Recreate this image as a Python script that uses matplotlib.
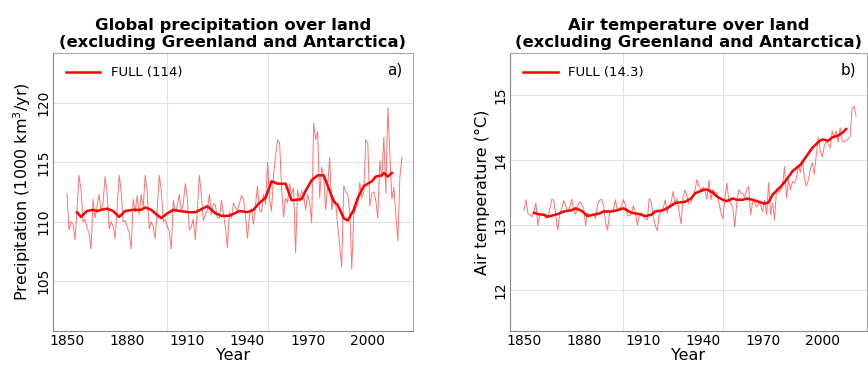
import matplotlib
matplotlib.use('Agg')
from matplotlib import pyplot as plt

# annual values 1850-2017, 11-yr running mean read separately
years = list(range(1850, 2018))

precip = [
    112.4, 109.3, 110.0, 109.8, 108.5, 111.0, 113.9, 112.7, 110.0, 110.2,
    109.5, 109.0, 107.7, 111.9, 110.3, 111.3, 112.3, 110.9, 111.6, 113.8,
    112.5, 109.4, 110.0, 109.6, 108.6, 111.1, 113.9, 112.6, 110.0, 110.1,
    109.6, 109.1, 107.7, 111.9, 110.8, 112.2, 110.6, 112.3, 111.2, 113.9,
    112.6, 109.4, 110.0, 109.6, 108.6, 111.1, 113.9, 112.7, 110.0, 110.2,
    109.6, 109.2, 107.7, 111.8, 110.8, 111.3, 112.3, 110.9, 111.5, 113.2,
    112.0, 109.3, 109.6, 110.2, 108.5, 111.0, 113.9, 112.3, 110.1, 110.6,
    111.0, 112.3, 110.6, 111.5, 111.4, 110.3, 110.3, 111.8, 110.7, 109.5,
    107.8, 110.8, 110.3, 111.6, 111.2, 110.9, 111.5, 112.2, 111.9, 110.5,
    108.6, 110.5, 111.1, 109.8, 111.4, 113.0, 111.0, 110.8, 112.3, 111.5,
    115.0, 112.0, 110.9, 113.9, 115.5, 116.9, 116.7, 112.9, 110.4, 112.0,
    111.6, 113.2, 112.3, 112.8, 107.4, 112.7, 111.7, 112.6, 112.3, 111.0,
    112.3, 111.6, 109.9, 118.3, 116.9, 117.6, 112.0, 114.6, 113.8, 111.0,
    113.0, 115.4, 111.0, 112.0, 111.6, 109.7, 108.0, 106.2, 113.0, 112.5,
    112.3, 110.9, 106.0, 110.6, 111.2, 111.4, 113.3, 112.0, 112.5, 116.9,
    116.6, 111.3, 112.4, 112.5, 111.8, 110.3, 115.1, 113.7, 117.1, 112.4,
    119.6, 115.7, 111.9, 112.9, 110.5, 108.4, 113.7, 115.4,
]

precip_sm_years = [1855, 1857, 1860, 1863, 1865, 1867, 1870, 1873, 1876, 1879,
                   1883, 1887, 1889, 1892, 1894, 1897, 1900, 1903, 1906, 1911,
                   1914, 1920, 1924, 1927, 1931, 1936, 1940, 1943, 1946, 1949,
                   1952, 1955, 1959, 1962, 1967, 1969, 1972, 1975, 1978, 1981,
                   1983, 1985, 1988, 1990, 1993, 1995, 1998, 2002, 2004, 2007,
                   2008, 2010, 2012]
precip_sm = [110.8, 110.4, 110.9, 111.0, 110.9, 111.0, 111.1, 110.9, 110.4, 110.9,
             111.0, 111.0, 111.2, 111.0, 110.7, 110.3, 110.7, 111.0, 110.9, 110.8,
             110.8, 111.3, 110.7, 110.5, 110.5, 110.9, 110.8, 111.0, 111.6, 112.0,
             113.4, 113.2, 113.2, 111.8, 111.9, 112.6, 113.5, 113.9, 113.9, 112.6,
             111.7, 111.4, 110.3, 110.1, 111.0, 112.0, 113.0, 113.4, 113.8, 113.9,
             114.1, 113.8, 114.1]

temp = [
    13.23, 13.39, 13.18, 13.16, 13.13, 13.20, 13.34, 13.00, 13.18, 13.14,
    13.17, 13.10, 13.13, 13.25, 13.40, 13.38, 13.15, 12.92, 13.18, 13.26,
    13.38, 13.30, 13.21, 13.28, 13.40, 13.24, 13.17, 13.28, 13.36, 13.32,
    13.26, 13.00, 13.19, 13.15, 13.16, 13.17, 13.10, 13.31, 13.38, 13.40,
    13.31, 13.05, 12.92, 13.18, 13.23, 13.24, 13.39, 13.21, 13.26, 13.30,
    13.39, 13.31, 13.15, 13.14, 13.18, 13.30, 13.20, 13.00, 13.16, 13.19,
    13.14, 13.10, 13.08, 13.41, 13.36, 13.13, 13.00, 12.91, 13.15, 13.22,
    13.26, 13.39, 13.18, 13.30, 13.35, 13.52, 13.31, 13.41, 13.20, 13.02,
    13.44, 13.54, 13.44, 13.33, 13.36, 13.44, 13.54, 13.70, 13.60, 13.54,
    13.59, 13.52, 13.40, 13.69, 13.39, 13.55, 13.50, 13.50, 13.35, 13.20,
    13.10, 13.39, 13.65, 13.39, 13.33, 13.28, 12.97, 13.34, 13.54, 13.50,
    13.48, 13.43, 13.55, 13.60, 13.16, 13.36, 13.35, 13.28, 13.34, 13.30,
    13.21, 13.39, 13.16, 13.65, 13.16, 13.34, 13.08, 13.56, 13.50, 13.54,
    13.60, 13.90, 13.42, 13.70, 13.54, 13.67, 13.65, 13.72, 13.92, 13.81,
    14.00, 13.72, 13.60, 13.70, 13.86, 13.96, 13.78, 14.09, 14.35, 14.14,
    14.05, 14.22, 14.29, 14.25, 14.19, 14.45, 14.35, 14.45, 14.28, 14.50,
    14.30, 14.28, 14.30, 14.33, 14.36, 14.80, 14.83, 14.68,
]

temp_sm_years = [1855, 1857, 1860, 1862, 1867, 1870, 1874, 1876, 1879, 1882,
                 1885, 1888, 1890, 1894, 1897, 1900, 1904, 1908, 1911, 1914,
                 1916, 1920, 1923, 1926, 1931, 1934, 1936, 1940, 1942, 1945,
                 1947, 1950, 1952, 1955, 1957, 1960, 1962, 1965, 1969, 1971,
                 1973, 1975, 1979, 1982, 1985, 1989, 1992, 1995, 1998, 2000,
                 2003, 2005, 2008, 2010, 2012]
temp_sm = [13.19, 13.17, 13.16, 13.13, 13.17, 13.21, 13.23, 13.26, 13.22, 13.14,
           13.16, 13.18, 13.21, 13.21, 13.23, 13.26, 13.19, 13.17, 13.14, 13.16,
           13.21, 13.23, 13.28, 13.34, 13.36, 13.41, 13.49, 13.54, 13.55, 13.50,
           13.44, 13.39, 13.37, 13.41, 13.39, 13.39, 13.41, 13.39, 13.35, 13.33,
           13.35, 13.47, 13.59, 13.70, 13.83, 13.93, 14.06, 14.19, 14.28, 14.32,
           14.30, 14.35, 14.38, 14.42, 14.48]

panels = [
    dict(y=precip, sm_x=precip_sm_years, sm_y=precip_sm, label='FULL (114)', tag='a)',
         title='Global precipitation over land\n(excluding Greenland and Antarctica)',
         ylabel=r'Precipitation (1000 km$^3$/yr)', yticks=[105, 110, 115, 120],
         ylim=(100.8, 124.2), rect=[0.061, 0.0956, 0.4147, 0.7596]),
    dict(y=temp, sm_x=temp_sm_years, sm_y=temp_sm, label='FULL (14.3)', tag='b)',
         title='Air temperature over land\n(excluding Greenland and Antarctica)',
         ylabel='Air temperature (°C)', yticks=[12, 13, 14, 15],
         ylim=(11.37, 15.65), rect=[0.5876, 0.0956, 0.4113, 0.7596]),
]

fig = plt.figure(figsize=(8.68, 3.66), dpi=100)

for p in panels:
    ax = fig.add_axes(p['rect'])
    ax.plot(years, p['y'], '-', c='red', lw=0.7, alpha=0.55)
    ax.plot(p['sm_x'], p['sm_y'], '-', c='red', lw=1.8, label=p['label'])

    ax.set_xlim(1843, 2022.5)
    ax.set_ylim(*p['ylim'])
    ax.set_xticks([1850, 1880, 1910, 1940, 1970, 2000])
    ax.set_xticks([1850, 1900, 1950, 2000], minor=True)
    ax.set_yticks(p['yticks'])
    for lab in ax.get_yticklabels():
        lab.set_rotation(90)
        lab.set_va('center')

    # vertical grid every 50 yr, horizontal on the ticks
    ax.grid(axis='x', which='minor', color='#e2e2e2', lw=0.8)
    ax.grid(axis='y', which='major', color='#e2e2e2', lw=0.8)
    ax.tick_params(which='both', length=0, labelsize=10, pad=2)
    for s in ax.spines.values():
        s.set_color('#aaaaaa')
    ax.spines['left'].set_color('#888888')
    ax.spines['bottom'].set_color('#888888')

    ax.set_xlabel('Year', fontsize=11.5, labelpad=0)
    ax.set_ylabel(p['ylabel'], fontsize=11.5, labelpad=2)
    ax.set_title(p['title'], fontsize=11.8, fontweight='bold', pad=4)
    ax.text(0.97, 0.965, p['tag'], transform=ax.transAxes, ha='right', va='top',
            fontsize=11)
    ax.legend(loc='upper left', frameon=False, fontsize=9.5, handlelength=2.6,
              borderaxespad=0.6)

fig.savefig('out.png', dpi=100)
